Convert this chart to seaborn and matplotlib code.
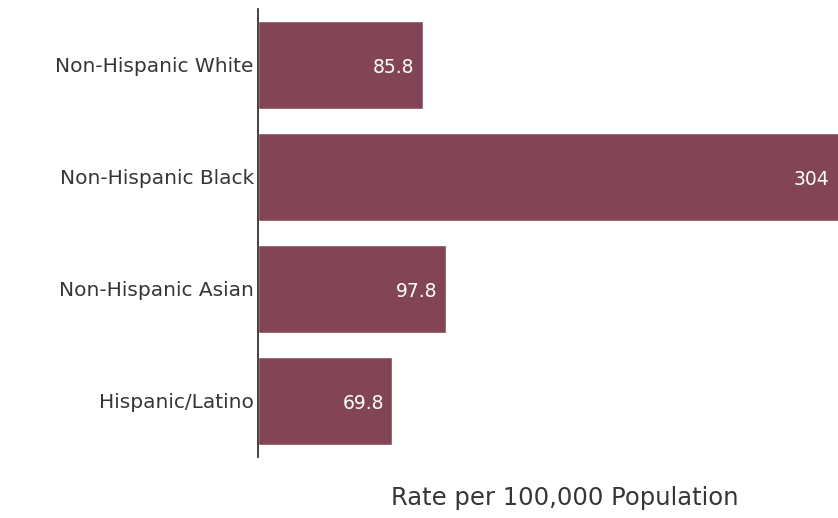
import matplotlib
matplotlib.use("Agg")

import matplotlib.pyplot as plt
import pandas as pd
import seaborn as sns

# Veri
gruplar = ["Non-Hispanic White", "Non-Hispanic Black", "Non-Hispanic Asian", "Hispanic/Latino"]
oranlar = [85.8, 304, 97.8, 69.8]
etiketler = ["85.8", "304", "97.8", "69.8"]

RENK_CUBUK = "#834555"
RENK_METIN = "#363636"

sns.set_theme(style="white")
plt.rcParams["font.family"] = ["DejaVu Sans"]

df = pd.DataFrame({"grup": gruplar, "oran": oranlar})

fig = plt.figure(figsize=(8.38, 5.18), dpi=100)
ax = fig.add_axes([0.3079, 0.1178, 0.6921, 0.865])

sns.barplot(data=df, y="grup", x="oran", color=RENK_CUBUK, saturation=1,
            width=0.79, orient="h", ax=ax)

ax.set_xlim(0, 301.6)
ax.set_ylim(3.5, -0.5)

# Değer etiketleri (çubuk ucunun içinde, beyaz)
for i, (val, txt) in enumerate(zip(oranlar, etiketler)):
    xpos = min(val, 301.6)
    ax.annotate(txt, (xpos, i), xytext=(-6, -2), textcoords="offset points",
                ha="right", va="center", color="white", fontsize=13.5,
                annotation_clip=False)

ax.set_xlabel("")
ax.set_ylabel("")
ax.set_xticks([])
ax.tick_params(axis="y", length=0, pad=3, labelsize=14.5, labelcolor=RENK_METIN)

for side in ["top", "right", "bottom"]:
    ax.spines[side].set_visible(False)
ax.spines["left"].set_color("#222222")
ax.spines["left"].set_linewidth(1.2)

fig.text(565 / 838, 1 - 498 / 518, "Rate per 100,000 Population", ha="center", va="center",
         fontsize=17.5, color=RENK_METIN)

fig.savefig("out.png", dpi=100)
plt.close(fig)
